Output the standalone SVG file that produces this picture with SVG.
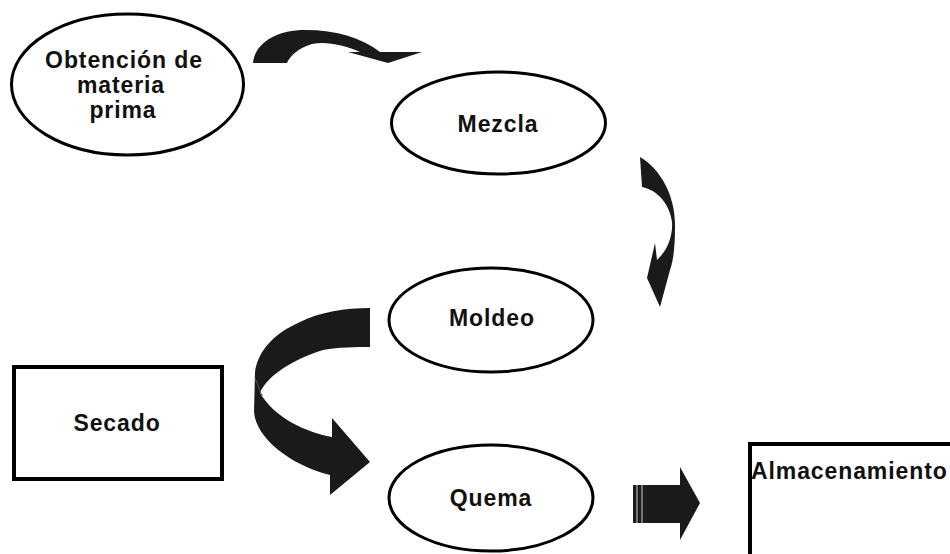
<svg xmlns="http://www.w3.org/2000/svg" width="950" height="554" viewBox="0 0 950 554">
<style>
.node{fill:#fff;stroke:#000;stroke-width:3}
.box{fill:#fff;stroke:#000;stroke-width:4}
.lbl{font-family:"Liberation Sans",Arial,sans-serif;font-weight:bold;font-size:23px;letter-spacing:0.9px;fill:#111;text-anchor:middle}
.arr{fill:#1a1a1a;stroke:none}
</style>
<rect width="950" height="554" fill="#fff"/>
<g id="n1">
<ellipse class="node" cx="127.5" cy="84.5" rx="116" ry="70.5"/>
<text class="lbl" x="124" y="68">Obtención de</text>
<text class="lbl" x="121" y="93">materia</text>
<text class="lbl" x="123" y="118">prima</text>
</g>
<g id="n2">
<ellipse class="node" cx="498.5" cy="123" rx="107" ry="51"/>
<text class="lbl" x="498" y="132">Mezcla</text>
</g>
<g id="n3">
<ellipse class="node" cx="491" cy="320" rx="102" ry="52"/>
<text class="lbl" x="492" y="326">Moldeo</text>
</g>
<g id="n4">
<rect class="box" x="14" y="367" width="208" height="112"/>
<text class="lbl" x="117" y="431">Secado</text>
</g>
<g id="n5">
<ellipse class="node" cx="491" cy="498" rx="102" ry="53"/>
<text class="lbl" x="491" y="506">Quema</text>
</g>
<g id="n6">
<rect class="box" x="750" y="444" width="210" height="120"/>
<text class="lbl" x="751" y="479" style="text-anchor:start">Almacenamiento</text>
</g>
<g id="connectors">
<path class="arr" d="M253,63 C255,42 278,30 305,30 C337,30 362,38 380,52 L422,52 L388,63 L348,52 L360,52 C344,45 326,41 312,44 C298,48 290,56 287,63 Z"/>
<path class="arr" d="M640,157 C662,170 676,198 675,228 C675,248 673,262 670,270 L660,307 L647,278 L655,243 L657,260 C668,250 673,235 672,222 C670,205 658,190 642,187 Z"/>
<path class="arr" d="M370,308 C345,308 320,312 300,322 C275,333 258,350 255,372 L254,412 C256,438 290,465 330,475 L330,495 L370,462 L332,418 L332,437 C305,432 275,418 260,393 C265,380 285,362 323,350 C340,347 355,347 370,347 Z"/>
<path d="M255,378 L262,396" stroke="#555" stroke-width="1" fill="none"/>
<path class="arr" d="M633,485 L680,485 L680,467 L700,503 L680,540 L680,523 L633,523 Z"/>
<path d="M637,485 V523 M642,485 V523" stroke="#fff" stroke-width="0.8" fill="none"/>
</g>
</svg>
